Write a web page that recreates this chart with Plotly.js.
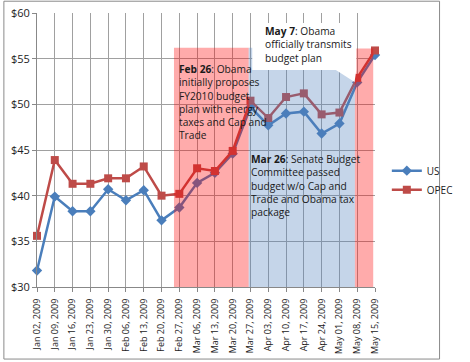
<!DOCTYPE html>
<html><head><meta charset="utf-8">
<script src="https://cdn.plot.ly/plotly-3.0.1.min.js"></script>
<style>html,body{margin:0;padding:0;background:#fff}#c{width:470px;height:362px}</style>
</head><body><div id="c"></div>
<script>
var dates = ["Jan 02, 2009","Jan 09, 2009","Jan 16, 2009","Jan 23, 2009","Jan 30, 2009","Feb 06, 2009","Feb 13, 2009","Feb 20, 2009","Feb 27, 2009","Mar 06, 2009","Mar 13, 2009","Mar 20, 2009","Mar 27, 2009","Apr 03, 2009","Apr 10, 2009","Apr 17, 2009","Apr 24, 2009","May 01, 2009","May 08, 2009","May 15, 2009"];
var us   = [31.8,39.9,38.3,38.3,40.7,39.5,40.6,37.3,38.7,41.4,42.5,44.6,49.7,47.7,49.0,49.2,46.8,47.9,52.4,55.4];
var opec = [35.6,43.9,41.3,41.3,41.9,41.9,43.2,40.0,40.2,43.0,42.7,44.9,50.4,48.5,50.8,51.2,48.9,49.1,52.9,55.9];
var seriesNames = ["US","OPEC"];
var noteFeb = "<b>Feb 26</b>: Obama<br>initially proposes<br>FY2010 budget<br>plan with energy<br>taxes and Cap and<br>Trade";
var noteMar = "<b>Mar 26</b>: Senate Budget<br>Committee passed<br>budget w/o Cap and<br>Trade and Obama tax<br>package";
var noteMay = "<b>May 7</b>: Obama<br>officially transmits<br>budget plan";

var FONT = "'Open Sans', 'Noto Sans', sans-serif";
var traces = [
  {x: dates, y: us, name: seriesNames[0], type: "scatter", mode: "lines+markers", cliponaxis: false,
   line: {color: "#4A7EBB", width: 2.5}, marker: {symbol: "diamond", size: 8, color: "#4A7EBB"}},
  {x: dates, y: opec, name: seriesNames[1], type: "scatter", mode: "lines+markers", cliponaxis: false,
   line: {color: "#BE4B48", width: 2.5}, marker: {symbol: "square", size: 8, color: "#BE4B48"}}
];
var layout = {
  width: 470, height: 362,
  margin: {l: 37, r: 72, t: 13, b: 75},
  paper_bgcolor: "#fff", plot_bgcolor: "#fff",
  font: {family: FONT, size: 10, color: "#222"},
  showlegend: true,
  legend: {x: 1.035, y: 0.39, xanchor: "left", yanchor: "middle", font: {size: 10, family: FONT},
           bgcolor: "rgba(0,0,0,0)", itemwidth: 30, tracegroupgap: 0},
  xaxis: {type: "category", range: [0, 19], tickangle: -90, showgrid: true, gridcolor: "#a0a0a0", gridwidth: 1,
          showline: true, linecolor: "#888", ticks: "outside", ticklen: 4, tickcolor: "#888", ticklabelstandoff: 3,
          tickfont: {size: 9, family: FONT, color: "#222"}, zeroline: false, fixedrange: true},
  yaxis: {range: [30, 60], dtick: 5, tickprefix: "$", showgrid: true, gridcolor: "#a0a0a0", gridwidth: 1,
          showline: true, linecolor: "#888", ticks: "outside", ticklen: 4, tickcolor: "#888",
          tickfont: {size: 11, family: FONT, color: "#222"}, zeroline: false, fixedrange: true},
  shapes: [
    {type: "rect", xref: "x", yref: "y", x0: 7.7, x1: 11.9, y0: 29.8, y1: 56.2, layer: "above",
     fillcolor: "rgba(255,0,0,0.33)", line: {width: 0}},
    {type: "rect", xref: "x", yref: "y", x0: 11.9, x1: 17.87, y0: 29.8, y1: 56.2, layer: "above",
     fillcolor: "rgba(79,129,189,0.33)", line: {width: 0}},
    {type: "rect", xref: "x", yref: "y", x0: 17.87, x1: 18.9, y0: 29.8, y1: 56.1, layer: "above",
     fillcolor: "rgba(255,0,0,0.33)", line: {width: 0}},
    {type: "path", xref: "x", yref: "y", layer: "above",
     path: "M 12.1,58.9 L 17.95,58.9 L 17.95,53.76 L 17.85,52.45 L 16.8,53.76 L 12.1,53.76 Z",
     fillcolor: "#ffffff", line: {width: 0}},
    {type: "rect", xref: "paper", yref: "paper", x0: -0.098, x1: 1.191, y0: -0.263, y1: 1.043, layer: "below",
     fillcolor: "rgba(0,0,0,0)", line: {color: "#8a8a8a", width: 1}}
  ],
  annotations: [
    {xref: "x", yref: "y", x: 7.85, y: 54.9, xanchor: "left", yanchor: "top", align: "left", showarrow: false,
     text: noteFeb, font: {size: 10.2, family: FONT, color: "#1a1a1a"}},
    {xref: "x", yref: "y", x: 11.9, y: 45.0, xanchor: "left", yanchor: "top", align: "left", showarrow: false,
     text: noteMar, font: {size: 10.2, family: FONT, color: "#1a1a1a"}},
    {xref: "x", yref: "y", x: 12.7, y: 59.0, xanchor: "left", yanchor: "top", align: "left", showarrow: false,
     text: noteMay, font: {size: 10.2, family: FONT, color: "#1a1a1a"}}
  ]
};
Plotly.newPlot("c", traces, layout, {displayModeBar: false, staticPlot: true});
</script></body></html>
